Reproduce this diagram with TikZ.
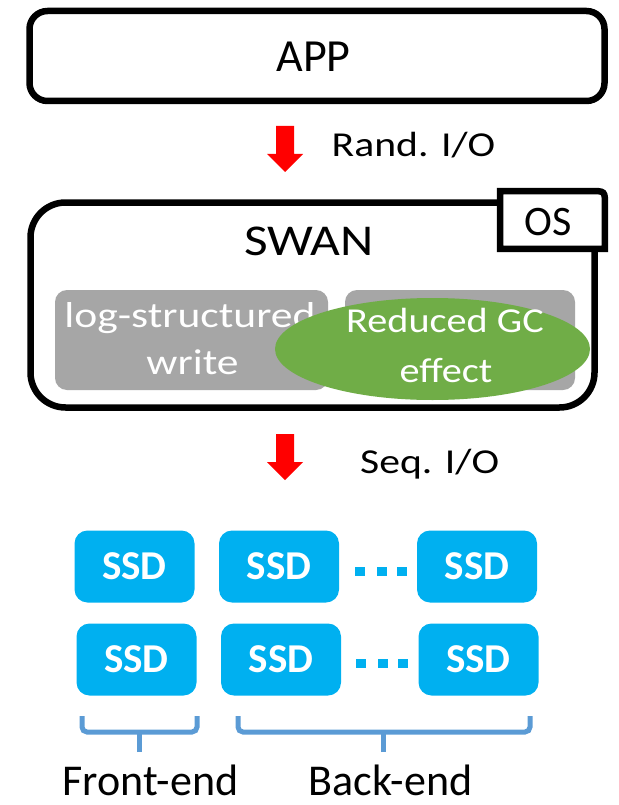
\documentclass[tikz,border=0pt]{standalone}
\usepackage{fontspec}
\setmainfont{Carlito}
\newfontfamily\wideA[FakeStretch=1.19]{Carlito}
\newfontfamily\wideB[FakeStretch=1.17]{Carlito}
\newfontfamily\wideC[FakeStretch=1.21]{Carlito}
\newfontfamily\wideD[FakeStretch=1.15]{Carlito}
\usetikzlibrary{shapes.geometric}
\definecolor{ssdblue}{HTML}{00B0F0}
\definecolor{gcgreen}{HTML}{70AD47}
\definecolor{boxgray}{HTML}{A6A6A6}
\definecolor{bracebl}{HTML}{5B9BD5}
\begin{document}
\begin{tikzpicture}[x=1pt,y=-1pt,
  blackbox/.style={draw=black,line width=6.5pt,fill=white,inner sep=0pt},
  graybox/.style={fill=boxgray,rounded corners=12pt,minimum width=#1,minimum height=100pt,inner sep=0pt},
  ssdbox/.style={fill=ssdblue,rounded corners=13pt,minimum width=120pt,minimum height=72pt,inner sep=0pt,text=white,font=\fontsize{41}{50}\bfseries\selectfont},
  dotsq/.style={fill=ssdblue,minimum width=10pt,minimum height=9pt,inner sep=0pt},
  redarrow/.style={fill=red},
  bracestyle/.style={draw=bracebl,line width=5pt,rounded corners=5pt},
  txt/.style={inner sep=0pt,anchor=base},
  iotext/.style={txt,anchor=base west,font=\wideA\fontsize{35}{42}\selectfont},
  whitetext/.style={txt,text=white},
  labtext/.style={txt,font=\fontsize{44}{52}\selectfont}
]
\useasboundingbox (0,0) rectangle (618,805);
% APP
\node[blackbox,rounded corners=18pt,minimum width=575pt,minimum height=90pt] (app) at (317,56) {};
\node[txt,font=\fontsize{46}{54}\selectfont] (apptext) at (313.5,71.7) {APP};
% arrow 1
\fill[redarrow] (276,126) -- (294,126) -- (294,154) -- (303,154) -- (285,172) -- (267,154) -- (276,154) -- cycle;
\node[iotext] (rand) at (331.5,156.7) {Rand. I/O};
% SWAN
\node[blackbox,rounded corners=35pt,minimum width=564pt,minimum height=205pt] (swan) at (312.5,305) {};
\node[txt,font=\wideB\fontsize{44}{52}\selectfont] (swantext) at (309,255) {SWAN};
\node[minimum width=104.5pt,minimum height=57.5pt,inner sep=0pt] (os) at (552.5,220) {};
\filldraw[draw=black,fill=white,line width=6.5pt,line join=miter]
  (os.south west) -- (os.north west) -- ([xshift=-14pt]os.north east)
  .. controls (os.north east) .. ([yshift=-14pt]os.north east) -- (os.south east) -- cycle;
\node[txt,font=\fontsize{42}{50}\selectfont] (ostext) at (548.5,235) {OS};
\node[graybox=273pt] (lsw) at (191.5,340) {};
\node[graybox=230pt] (gb2) at (460,340) {};
\node[whitetext,font=\wideC\fontsize{36}{44}\selectfont] (lsw1) at (190,327) {log-structured};
\node[whitetext,font=\wideC\fontsize{36}{44}\selectfont] (lsw2) at (192.5,374.5) {write};
\node[ellipse,fill=gcgreen,minimum width=315pt,minimum height=102pt,inner sep=0pt] (gc) at (432.5,349) {};
\node[whitetext,font=\wideD\fontsize{35}{44}\selectfont] (gc1) at (445,332.7) {Reduced GC};
\node[whitetext,font=\wideD\fontsize{35}{44}\selectfont] (gc2) at (446,382.7) {effect};
% arrow 2
\fill[redarrow] (276,434) -- (294,434) -- (294,462) -- (303,462) -- (285,480) -- (267,462) -- (276,462) -- cycle;
\node[iotext] (seq) at (360,473) {Seq. I/O};
% SSDs
\node[ssdbox] (s11) at (134.5,566.5) {SSD};
\node[ssdbox] (s12) at (279,566.5) {SSD};
\node[ssdbox] (s13) at (477,566.5) {SSD};
\node[ssdbox] (s21) at (136.5,659.5) {SSD};
\node[ssdbox] (s22) at (281,659.5) {SSD};
\node[ssdbox] (s23) at (478.5,659.5) {SSD};
\node[dotsq] (d11) at (360,571) {};
\node[dotsq] (d12) at (382,571) {};
\node[dotsq] (d13) at (402,571) {};
\node[dotsq] (d21) at (361,663) {};
\node[dotsq] (d22) at (383,663) {};
\node[dotsq] (d23) at (403,663) {};
% braces
\coordinate (fb) at (139,752);
\coordinate (bb) at (383,752);
\draw[bracestyle] (82,716) -- (82,732) -- (197,732) -- (197,716);
\draw[bracestyle] (fb) -- (139,732);
\draw[bracestyle] (238,716) -- (238,732) -- (530,732) -- (530,716);
\draw[bracestyle] (bb) -- (383,732);
\node[labtext] (front) at (150.5,795) {Front-end};
\node[labtext] (back) at (390.5,795) {Back-end};
\end{tikzpicture}
\end{document}
